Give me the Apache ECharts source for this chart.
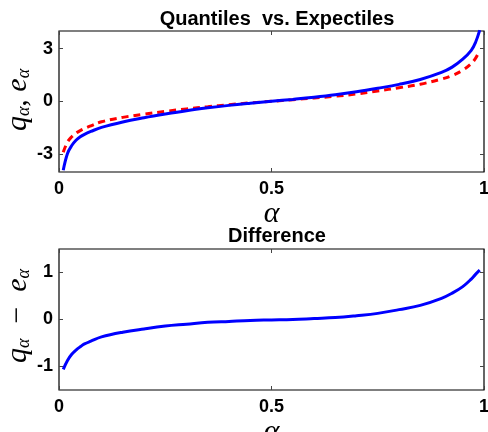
<!DOCTYPE html>
<html>
<head>
<meta charset="utf-8">
<script src="https://cdn.jsdelivr.net/npm/echarts@6/dist/echarts.min.js"></script>
<style>
html,body{margin:0;padding:0;background:#fff;}
#c{width:488px;height:432px;}
</style>
</head>
<body>
<div id="c"></div>
<script>
const alphas = [0.01,0.02,0.03,0.04,0.05,0.06,0.075,0.1,0.15,0.2,0.25,0.3,0.35,0.4,0.45,0.5,0.55,0.6,0.65,0.7,0.75,0.8,0.85,0.9,0.925,0.95,0.97,0.98,0.99];
const quantiles = [-3.9,-2.95,-2.5,-2.2,-2.0,-1.86,-1.7,-1.47,-1.16,-0.92,-0.71,-0.52,-0.36,-0.22,-0.1,0.01,0.12,0.24,0.38,0.55,0.75,0.97,1.25,1.65,1.95,2.4,2.9,3.35,4.05];
const expectiles = [-2.88,-2.3,-2.0,-1.8,-1.65,-1.53,-1.38,-1.15,-0.9,-0.72,-0.56,-0.42,-0.3,-0.18,-0.08,0.01,0.1,0.2,0.3,0.43,0.6,0.78,0.98,1.27,1.47,1.78,2.15,2.45,2.9];
const differences = [-1.06,-0.87,-0.74,-0.65,-0.58,-0.52,-0.46,-0.37,-0.27,-0.2,-0.14,-0.1,-0.06,-0.04,-0.02,-0.01,0.0,0.02,0.04,0.08,0.13,0.21,0.3,0.45,0.56,0.7,0.86,0.96,1.05];
const xTicks = [0,0.5,1];
const yTicksTop = [-3,0,3];
const yTicksBottom = [-1,0,1];
const titles = ['Quantiles  vs. Expectiles','Difference'];
const yNames = ['{v|q}{s|α}{n|, }{v|e}{s|α}','{v|q}{s|α}{n|  −  }{v|e}{s|α}'];

const pair = (ys) => alphas.map((a,i)=>[a, ys[i]]);

const labelFont = {fontFamily:'Liberation Sans, Arial, sans-serif', fontWeight:'bold', fontSize:18, color:'#000'};
const serif = 'Liberation Serif, Times New Roman, serif';
const mathRich = {
  v:{fontFamily:serif, fontStyle:'italic', fontSize:30, color:'#000'},
  s:{fontFamily:serif, fontStyle:'italic', fontSize:18, color:'#000', verticalAlign:'bottom', padding:[12,0,0,0]},
  n:{fontFamily:serif, fontSize:30, color:'#000'}
};
const tickStyle = {show:true, inside:true, length:4, lineStyle:{color:'#444', width:1}};

function xAx(gi){
  return [{
    type:'value', gridIndex:gi, min:0, max:1, interval:0.5,
    axisLine:{show:false, onZero:false}, splitLine:{show:false},
    axisTick:Object.assign({customValues:xTicks}, tickStyle),
    axisLabel:Object.assign({margin:8, customValues:xTicks}, labelFont),
    name:'α', nameLocation:'middle', nameGap:27, nameMoveOverlap:false,
    nameTextStyle:{fontFamily:serif, fontStyle:'italic', fontSize:30, color:'#000'}
  },{
    type:'value', gridIndex:gi, position:'top', min:0, max:1, interval:0.5,
    axisLine:{show:false, onZero:false}, splitLine:{show:false}, axisLabel:{show:false},
    axisTick:Object.assign({customValues:xTicks}, tickStyle)
  }];
}
function yAx(gi,min,max,ticks){
  return [{
    type:'value', gridIndex:gi, min:min, max:max,
    axisLine:{show:false, onZero:false}, splitLine:{show:false},
    axisTick:Object.assign({customValues:ticks}, tickStyle),
    axisLabel:Object.assign({margin:6, customValues:ticks}, labelFont)
  },{
    type:'value', gridIndex:gi, position:'right', min:min, max:max,
    axisLine:{show:false, onZero:false}, splitLine:{show:false}, axisLabel:{show:false},
    axisTick:Object.assign({customValues:ticks}, tickStyle)
  }];
}

const chart = echarts.init(document.getElementById('c'), null, {renderer:'canvas'});
chart.setOption({
  animation:false,
  backgroundColor:'#fff',
  title:[
    {text:titles[0], left:272, top:4, textAlign:'center', textStyle:{fontFamily:'Liberation Sans, Arial, sans-serif', fontWeight:'bold', fontSize:20, color:'#000'}},
    {text:titles[1], left:272, top:221, textAlign:'center', textStyle:{fontFamily:'Liberation Sans, Arial, sans-serif', fontWeight:'bold', fontSize:20, color:'#000'}}
  ],
  grid:[
    {left:59, right:4, top:31, height:141, show:true, borderColor:'#000', borderWidth:1.2, backgroundColor:'#fff', containLabel:false, outerBoundsMode:'none'},
    {left:59, right:4, top:249, height:141, show:true, borderColor:'#000', borderWidth:1.2, backgroundColor:'#fff', containLabel:false, outerBoundsMode:'none'}
  ],
  graphic:[
    {type:'text', x:18, y:100, rotation:Math.PI/2, style:{text:yNames[0], rich:mathRich, align:'center', verticalAlign:'middle'}},
    {type:'text', x:18, y:316, rotation:Math.PI/2, style:{text:yNames[1], rich:mathRich, align:'center', verticalAlign:'middle'}}
  ],
  xAxis:[].concat(xAx(0), xAx(1)),
  yAxis:[].concat(yAx(0,-4,4,yTicksTop), yAx(1,-1.5,1.5,yTicksBottom)),
  series:[
    {type:'line', xAxisIndex:0, yAxisIndex:0, data:pair(expectiles), smooth:0.4, showSymbol:false, clip:true,
     lineStyle:{color:'#ff0000', width:3, type:[7,5]}},
    {type:'line', xAxisIndex:0, yAxisIndex:0, data:pair(quantiles), smooth:0.4, showSymbol:false, clip:true,
     lineStyle:{color:'#0000ff', width:3}},
    {type:'line', xAxisIndex:2, yAxisIndex:2, data:pair(differences), smooth:0.4, showSymbol:false, clip:true,
     lineStyle:{color:'#0000ff', width:3}}
  ]
});
</script>
</body>
</html>
